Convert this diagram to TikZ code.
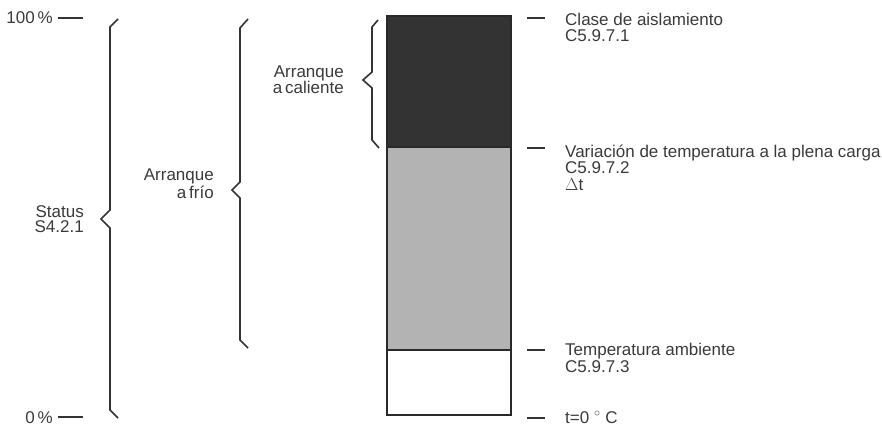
\documentclass[tikz,border=0pt]{standalone}
\usepackage{fontspec}
\setmainfont{Liberation Sans}
\definecolor{ink}{HTML}{333333}
\definecolor{txt}{HTML}{3A3A3A}
\definecolor{hotfill}{HTML}{333333}
\definecolor{midfill}{HTML}{B3B3B3}
\begin{document}
\begin{tikzpicture}[x=1pt,y=-1pt,
  brace/.style={draw=ink,line width=1.6pt,line join=miter},
  tick/.style={draw=ink,line width=1.4pt},
  lbl/.style={inner sep=0pt,text=txt,font=\fontsize{17}{16.5}\selectfont},
  lblb/.style={inner sep=0pt,text=txt,font=\fontsize{17}{15}\selectfont},
  band/.style={draw=ink!80!black,line width=1.1pt}]
\useasboundingbox (0,0) rectangle (882,425);
% column
\fill[hotfill] (387,16) rectangle (511,147);
\fill[midfill] (387,147) rectangle (511,350);
\fill[white] (387,350) rectangle (511,415);
\draw[band] (387,16) rectangle (511,415);
\draw[band] (387,147) -- (511,147);
\draw[band] (387,350) -- (511,350);
% left scale
\coordinate (l100a) at (58,18); \coordinate (l100b) at (83,18);
\coordinate (l0a) at (58,417); \coordinate (l0b) at (83,417);
\draw[tick] (l100a) -- (l100b);
\draw[tick] (l0a) -- (l0b);
\node[lbl,anchor=base east] (p100) at (53,24) {100\,\%};
\node[lbl,anchor=base east] (p0) at (53,423) {0\,\%};
% braces
\draw[brace] (118,19) -- (110,27) -- (110,210) -- (101,219) -- (110,228) -- (110,410) -- (118,418);
\draw[brace] (248,19) -- (240,28) -- (240,182) -- (232,190) -- (240,198) -- (240,340) -- (248,348);
\draw[brace] (378,20) -- (372,27) -- (372,72) -- (363,80) -- (372,88) -- (372,140) -- (379,148);
\node[lblb,anchor=base east,align=right] (status) at (84,232) {Status\\S4.2.1};
\node[lblb,anchor=base east,align=right] (cold) at (214,198) {Arranque\\a\,frío};
\node[lblb,anchor=base east,align=right] (hot) at (344,94) {Arranque\\a\,caliente};
% right ticks
\coordinate (r1a) at (527,18); \coordinate (r1b) at (545,18);
\coordinate (r2a) at (527,148); \coordinate (r2b) at (545,148);
\coordinate (r3a) at (527,350); \coordinate (r3b) at (545,350);
\coordinate (r4a) at (527,418); \coordinate (r4b) at (545,418);
\draw[tick] (r1a) -- (r1b);
\draw[tick] (r2a) -- (r2b);
\draw[tick] (r3a) -- (r3b);
\draw[tick] (r4a) -- (r4b);
\node[lbl,anchor=base west,align=left] (ins) at (565,42) {Clase de aislamiento\\C5.9.7.1};
\node[lbl,anchor=base west,align=left] (var) at (565,190) {Variación de temperatura a la plena carga\\C5.9.7.2\\$\Delta$t};
\node[lbl,anchor=base west,align=left] (amb) at (565,372) {Temperatura ambiente\\C5.9.7.3};
\node[lbl,anchor=base west] (zero) at (565,423) {t=0 $^\circ$ C};
\end{tikzpicture}
\end{document}
